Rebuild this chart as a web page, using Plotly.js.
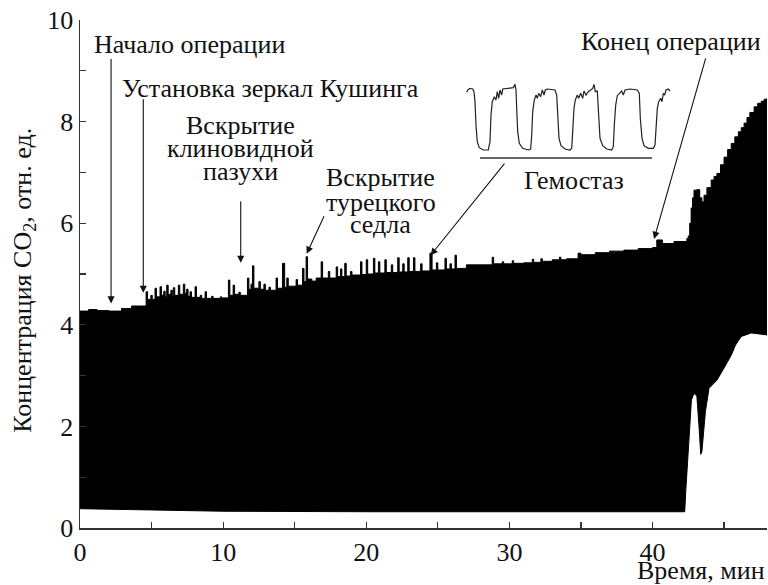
<!DOCTYPE html>
<html>
<head>
<meta charset="utf-8">
<script src="https://cdn.plot.ly/plotly-3.0.1.min.js"></script>
<style>
html,body{margin:0;padding:0;background:#fff;}
#chart{width:768px;height:585px;}
#chart svg text{font-family:"Liberation Serif","DejaVu Serif",serif !important;}
</style>
</head>
<body>
<div id="chart"></div>
<script>
// Main record: upper (end-tidal) envelope, drawn as steps
const timeUpper = [0, 0.6, 1.2, 2.0, 2.9, 3.6, 4.62, 4.72, 4.95, 5.05, 5.24, 5.34, 5.59, 5.69, 5.85, 5.95, 6.06, 6.16, 6.35, 6.45, 6.52, 6.62, 6.87, 6.97, 7.22, 7.32, 7.45, 7.55, 7.69, 7.79, 8.04, 8.14, 8.4, 8.5, 8.74, 8.84, 9.2, 9.3, 9.8, 9.9, 10.37, 10.47, 10.7, 10.8, 11.1, 11.2, 11.7, 11.8, 11.95, 12.05, 12.15, 12.5, 12.6, 12.85, 12.95, 13.2, 13.3, 13.7, 13.8, 14.15, 14.3, 14.45, 14.55, 15.1, 15.2, 15.55, 15.65, 15.8, 15.9, 16.2, 16.5, 16.85, 16.95, 17.35, 17.45, 17.9, 18.0, 18.2, 18.3, 18.5, 18.6, 18.9, 19.0, 19.6, 19.7, 20.0, 20.1, 20.5, 20.6, 20.85, 20.95, 21.3, 21.4, 21.75, 21.85, 22.2, 22.3, 22.55, 22.65, 22.9, 23.0, 23.3, 23.4, 23.8, 23.9, 24.45, 24.6, 24.9, 25.0, 25.5, 25.6, 25.85, 25.95, 26.2, 26.3, 27.0, 28.8, 28.9, 29.5, 29.6, 30.2, 30.3, 31.0, 31.6, 31.7, 32.2, 32.3, 33.0, 33.5, 33.6, 34.0, 34.8, 35.0, 36.0, 37.0, 38.0, 39.0, 40.0, 40.3, 40.7, 41.5, 42.4, 42.5, 42.6, 42.7, 42.8, 42.9, 43.1, 43.3, 43.45, 43.6, 43.8, 44.1, 44.3, 44.5, 44.75, 45.0, 45.25, 45.5, 45.75, 46.0, 46.2, 46.4, 46.6, 46.8, 47.1, 47.35, 47.6, 47.8, 48.0];
const co2Upper = [4.27, 4.30, 4.28, 4.27, 4.32, 4.37, 4.65, 4.50, 4.58, 4.50, 4.72, 4.55, 4.75, 4.58, 4.66, 4.55, 4.78, 4.60, 4.68, 4.56, 4.73, 4.58, 4.78, 4.60, 4.80, 4.62, 4.70, 4.56, 4.65, 4.54, 4.75, 4.54, 4.58, 4.52, 4.65, 4.52, 4.56, 4.52, 4.55, 4.53, 4.88, 4.58, 4.78, 4.60, 4.64, 4.58, 4.92, 4.70, 4.80, 5.16, 4.72, 4.85, 4.70, 4.80, 4.68, 4.74, 4.68, 4.92, 4.72, 5.21, 4.74, 4.92, 4.76, 4.89, 4.78, 5.11, 4.85, 5.34, 4.90, 4.86, 4.92, 5.24, 4.92, 5.05, 4.92, 5.14, 4.95, 5.10, 4.95, 5.21, 4.96, 5.05, 4.98, 5.24, 4.99, 5.28, 5.00, 5.31, 5.02, 5.24, 5.02, 5.28, 5.03, 5.18, 5.03, 5.32, 5.04, 5.20, 5.04, 5.32, 5.05, 5.32, 5.05, 5.20, 5.06, 5.41, 5.08, 5.22, 5.08, 5.31, 5.10, 5.20, 5.10, 5.37, 5.11, 5.18, 5.33, 5.20, 5.24, 5.20, 5.26, 5.21, 5.22, 5.29, 5.23, 5.30, 5.25, 5.28, 5.33, 5.28, 5.30, 5.41, 5.38, 5.42, 5.45, 5.47, 5.50, 5.52, 5.67, 5.60, 5.64, 5.70, 5.75, 6.0, 6.3, 6.5, 6.65, 6.66, 6.5, 6.42, 6.55, 6.7, 6.85, 6.92, 6.98, 7.15, 7.3, 7.45, 7.57, 7.7, 7.8, 7.88, 7.97, 8.08, 8.18, 8.29, 8.36, 8.40, 8.44, 8.46];

// Main record: lower (inspiratory) envelope
const timeLower = [0, 2, 5, 10, 20, 30, 40, 42.25, 42.33, 42.49, 42.72, 42.9, 43.1, 43.25, 43.37, 43.45, 43.7, 43.95, 44.5, 45.0, 45.5, 45.8, 46.2, 46.9, 47.5, 48.0];
const co2Lower = [0.38, 0.37, 0.35, 0.33, 0.32, 0.32, 0.32, 0.32, 0.75, 1.54, 2.52, 2.65, 2.6, 2.0, 1.45, 1.5, 2.3, 2.75, 2.91, 3.15, 3.4, 3.6, 3.77, 3.84, 3.82, 3.80];

// Inset: capnogram during haemostasis (seconds, relative CO2)
const insetT = [0.67, 0.80, 1.00, 1.27, 1.40, 1.50, 1.60, 1.73, 1.93, 2.33, 2.83, 3.00, 3.10, 3.23, 3.43, 3.60, 3.73, 3.87, 4.00, 4.17, 4.27, 4.67, 5.33, 5.50, 5.60, 5.67, 5.77, 5.93, 6.27, 6.83, 7.07, 7.17, 7.27, 7.43, 7.60, 7.73, 7.87, 8.07, 8.23, 8.40, 8.53, 8.73, 9.50, 9.67, 9.77, 9.90, 10.10, 10.50, 11.00, 11.17, 11.27, 11.40, 11.53, 11.73, 11.87, 12.07, 12.27, 12.40, 12.60, 12.83, 13.07, 13.27, 13.40, 13.53, 13.73, 13.83, 14.00, 14.27, 14.67, 15.17, 15.33, 15.43, 15.57, 15.73, 15.93, 16.17, 16.33, 16.50, 17.00, 17.73, 17.93, 18.03, 18.20, 18.40, 18.83, 19.33, 19.50, 19.60, 19.73, 19.87, 20.07, 20.20, 20.33, 20.47, 20.60, 20.83, 21.00];
const insetCO2 = [3.76, 3.92, 4.00, 3.96, 3.80, 3.20, 1.80, 0.80, 0.44, 0.30, 0.30, 0.80, 2.40, 3.20, 3.50, 3.30, 3.80, 3.40, 3.90, 3.60, 3.96, 4.00, 4.04, 4.24, 3.90, 2.80, 1.40, 0.70, 0.40, 0.30, 0.36, 1.20, 2.60, 3.30, 3.60, 3.40, 3.70, 3.50, 3.90, 3.60, 3.90, 3.96, 3.90, 3.60, 2.20, 1.00, 0.56, 0.36, 0.30, 0.40, 1.40, 2.80, 3.30, 3.60, 3.40, 3.70, 3.40, 3.84, 3.60, 3.80, 3.90, 4.00, 4.24, 3.80, 3.84, 2.40, 1.00, 0.56, 0.36, 0.30, 0.50, 1.80, 3.00, 3.56, 3.70, 3.84, 3.60, 3.90, 3.96, 3.90, 3.70, 2.20, 1.00, 0.56, 0.40, 0.40, 0.60, 1.80, 2.80, 3.20, 3.40, 3.20, 3.70, 3.60, 3.90, 3.96, 3.84];

// Event annotations
const eventLabels = ['Начало операции', 'Установка зеркал Кушинга', 'Вскрытие клиновидной пазухи', 'Вскрытие турецкого седла', 'Гемостаз', 'Конец операции'];
const eventTime = [2.17, 4.42, 11.23, 15.84, 24.5, 40.11];
const eventCO2 = [4.42, 4.63, 5.22, 5.40, 5.37, 5.69];

const FONT = 'Liberation Serif, DejaVu Serif, serif';
const FS = 26;
const INK = '#111';

const traces = [
  {x: timeLower, y: co2Lower, mode: 'lines', line: {color: '#000', width: 1}, hoverinfo: 'skip', showlegend: false},
  {x: timeUpper, y: co2Upper, mode: 'lines', line: {color: '#000', width: 1, shape: 'hv'}, fill: 'tonexty', fillcolor: '#000', hoverinfo: 'skip', showlegend: false},
  {x: insetT, y: insetCO2, xaxis: 'x2', yaxis: 'y2', mode: 'lines', line: {color: '#222', width: 1.2}, hoverinfo: 'skip', showlegend: false}
];

function txt(text, x, y, xanchor) {
  return {text: text, xref: 'paper', yref: 'paper', x: x, y: y, xanchor: xanchor || 'center', yanchor: 'middle', showarrow: false, font: {family: FONT, size: FS, color: INK}};
}
function arrow(i, ax, ay) {
  return {text: '', x: eventTime[i], y: eventCO2[i], xref: 'x', yref: 'y', ax: ax, ay: ay, showarrow: true, arrowhead: 2, arrowsize: 1.3, arrowwidth: 1.1, arrowcolor: INK};
}

const annotations = [
  txt(eventLabels[0], 0.1601, 0.9508),
  txt(eventLabels[1], 0.2766, 0.8642),
  txt('Вскрытие', 0.2329, 0.7933),
  txt('клиновидной', 0.2329, 0.7461),
  txt('пазухи', 0.2329, 0.7008),
  txt('Вскрытие', 0.4381, 0.689),
  txt('турецкого', 0.4381, 0.6417),
  txt('седла', 0.4381, 0.5965),
  txt(eventLabels[4], 0.719, 0.685),
  txt(eventLabels[5], 0.860, 0.9567),
  txt('Время, мин', 1.0, -0.0835, 'right'),
  Object.assign(txt('Концентрация CO<sub>2</sub>, отн. ед.', -0.082, 0.488), {textangle: -90}),
  arrow(0, 0, -246),
  arrow(1, 0, -195),
  arrow(2, 0, -63),
  arrow(3, 18, -39),
  arrow(4, 75, -93),
  arrow(5, 52, -182)
];

const axisStyle = {
  showgrid: false, zeroline: false, showline: true, linecolor: '#333', linewidth: 1.5,
  ticks: 'inside', ticklen: 6, tickwidth: 1.2, tickcolor: '#333',
  tickfont: {family: FONT, size: FS, color: INK}
};

const layout = {
  width: 768, height: 585,
  margin: {l: 80, r: 1, t: 20, b: 57},
  font: {family: FONT},
  paper_bgcolor: '#fff', plot_bgcolor: '#fff',
  showlegend: false,
  xaxis: Object.assign({}, axisStyle, {range: [0, 48], dtick: 10, tick0: 0, minor: {dtick: 5, ticks: 'inside', ticklen: 6, tickcolor: '#333'}}),
  yaxis: Object.assign({}, axisStyle, {range: [0, 10], dtick: 2, tick0: 0, minor: {dtick: 1, ticks: 'inside', ticklen: 6, tickcolor: '#333'}}),
  xaxis2: {domain: [0.5531, 0.8734], range: [0, 22], visible: false, anchor: 'y2'},
  yaxis2: {domain: [0.7343, 0.8917], range: [0, 4.8], visible: false, anchor: 'x2'},
  shapes: [
    {type: 'line', xref: 'paper', yref: 'paper', x0: 0.5822, x1: 0.8326, y0: 0.7283, y1: 0.7283, line: {color: '#666', width: 2}}
  ],
  annotations: annotations
};

Plotly.newPlot('chart', traces, layout, {staticPlot: true, displayModeBar: false});
</script>
</body>
</html>
